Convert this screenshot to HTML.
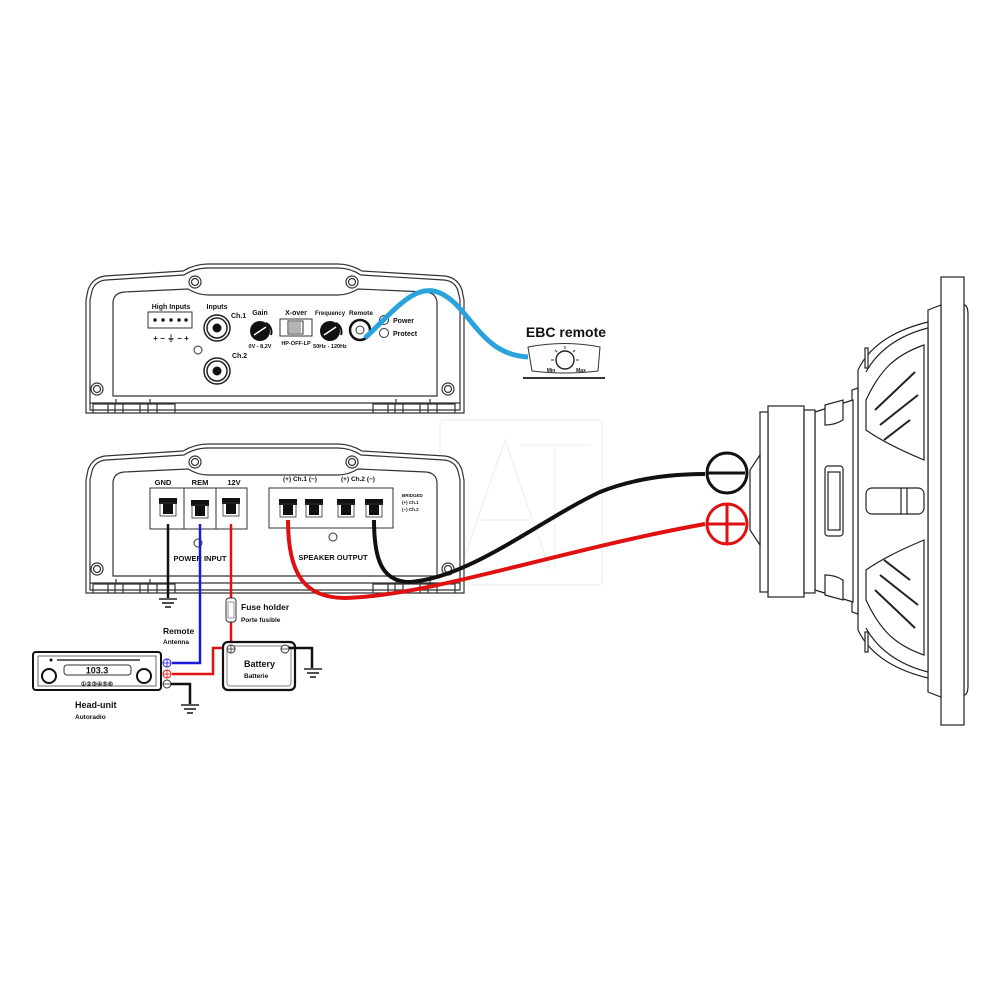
<!DOCTYPE html>
<html><head><meta charset="utf-8"><style>
html,body{margin:0;padding:0;background:#fff;}
svg{display:block;}
text{font-family:"Liberation Sans",sans-serif;font-weight:bold;fill:#111;}
</style></head><body>
<svg width="1000" height="1000" viewBox="0 0 1000 1000" xmlns="http://www.w3.org/2000/svg">
<defs>
<g id="body" fill="none" stroke="#333" stroke-width="1.2">
  <path d="M86,300 L88,290 Q92,278 105,276 L183,271 Q195,264 208,264 L338,264 Q350,264 362,271 L445,276 Q458,278 462,290 L464,300 L464,413 L86,413 Z" fill="#fff"/>
  <path d="M90,300 L92,291 Q95,281 106,280 L184,275 Q195,268 208,268 L338,268 Q350,268 361,275 L444,280 Q455,281 458,291 L460,300 L460,410 L90,410 Z"/>
  <path d="M113,396 L113,302 Q114,293 124,292 L188,289 Q198,295 208,295 L338,295 Q348,295 358,289 L426,292 Q436,293 437,302 L437,396 Z"/>
  <line x1="90" y1="403" x2="460" y2="403"/>
  <circle cx="195" cy="282" r="6"/><circle cx="195" cy="282" r="3.5"/>
  <circle cx="352" cy="282" r="6"/><circle cx="352" cy="282" r="3.5"/>
  <circle cx="97" cy="389" r="6"/><circle cx="97" cy="389" r="3.5"/>
  <circle cx="448" cy="389" r="6"/><circle cx="448" cy="389" r="3.5"/>
  <path d="M93,413 L93,404 L175,404 L175,413 M108,413 L108,404 M115,413 L115,404 M123,413 L123,404 M140,413 L140,404 M148,413 L148,404 M157,413 L157,404 M116,404 L116,399 M150,404 L150,399"/>
  <path d="M373,413 L373,404 L455,404 L455,413 M388,413 L388,404 M395,413 L395,404 M403,413 L403,404 M420,413 L420,404 M428,413 L428,404 M437,413 L437,404 M396,404 L396,399 M430,404 L430,399"/>
</g>
<g id="gnd" stroke="#222" stroke-width="1.6"><line x1="-9" y1="0" x2="9" y2="0"/><line x1="-6" y1="4" x2="6" y2="4"/><line x1="-3" y1="8" x2="3" y2="8"/></g>
<g id="term"><path d="M-9,-10 L9,-10 L9,-4 L5,-4 L5,6 L-5,6 L-5,-4 L-9,-4 Z" fill="#111"/><rect x="-8" y="-5" width="16" height="13" fill="none" stroke="#333" stroke-width="0.8"/></g>
</defs>

<g opacity="0.1" fill="none" stroke="#888" stroke-width="1.5">
<rect x="440" y="420" width="162" height="165" rx="4"/>
<path d="M460,570 L505,440 L550,570 M480,520 L530,520 M520,445 L590,445 M555,445 L555,570"/>
</g>

<use href="#body"/>
<g font-size="7">
<text x="171" y="309" text-anchor="middle">High Inputs</text>
<rect x="148" y="312" width="44" height="16" fill="#fff" stroke="#333"/>
<g fill="#111"><circle cx="155" cy="320" r="1.7"/><circle cx="163" cy="320" r="1.7"/><circle cx="171" cy="320" r="1.7"/><circle cx="179" cy="320" r="1.7"/><circle cx="186" cy="320" r="1.7"/></g>
<text x="171" y="341" text-anchor="middle" font-size="8">+ − ⏚ − +</text>
<text x="217" y="309" text-anchor="middle">Inputs</text>
<circle cx="217" cy="328" r="13" fill="none" stroke="#222" stroke-width="1.5"/><circle cx="217" cy="328" r="10" fill="none" stroke="#222" stroke-width="1.5"/><circle cx="217" cy="328" r="4.5" fill="#111"/>
<text x="231" y="318">Ch.1</text>
<circle cx="198" cy="350" r="4" fill="none" stroke="#333"/>
<circle cx="217" cy="371" r="13" fill="none" stroke="#222" stroke-width="1.5"/><circle cx="217" cy="371" r="10" fill="none" stroke="#222" stroke-width="1.5"/><circle cx="217" cy="371" r="4.5" fill="#111"/>
<text x="232" y="358">Ch.2</text>
<text x="260" y="315" text-anchor="middle">Gain</text>
<circle cx="260" cy="331" r="10" fill="#111"/><path d="M266,323 A10,10 0 0 1 271,335" stroke="#111" stroke-width="2" fill="none"/><line x1="254" y1="335" x2="266" y2="327" stroke="#fff" stroke-width="1.5"/>
<text x="260" y="348" text-anchor="middle" font-size="5.5">0V - 8,2V</text>
<text x="296" y="315" text-anchor="middle">X-over</text>
<rect x="280" y="319" width="32" height="17" fill="#fff" stroke="#333"/>
<rect x="288" y="321" width="15" height="13" fill="none" stroke="#333"/>
<path d="M290,322 V333 M292,322 V333 M294,322 V333 M296,322 V333 M298,322 V333 M300,322 V333" stroke="#444" stroke-width="0.8"/>
<text x="296" y="345" text-anchor="middle" font-size="5.5">HP-OFF-LP</text>
<text x="330" y="315" text-anchor="middle" font-size="6.5" textLength="30" lengthAdjust="spacingAndGlyphs">Frequency</text>
<circle cx="330" cy="331" r="10" fill="#111"/><path d="M336,323 A10,10 0 0 1 341,335" stroke="#111" stroke-width="2" fill="none"/><line x1="324" y1="335" x2="336" y2="327" stroke="#fff" stroke-width="1.5"/>
<text x="330" y="348" text-anchor="middle" font-size="5.5">50Hz - 120Hz</text>
<text x="361" y="315" text-anchor="middle" font-size="6.5" textLength="24" lengthAdjust="spacingAndGlyphs">Remote</text>
<circle cx="360" cy="330" r="10" fill="#fff" stroke="#111" stroke-width="2.5"/><circle cx="360" cy="330" r="4" fill="none" stroke="#333"/>
<circle cx="384" cy="320" r="4.5" fill="#fff" stroke="#333"/><text x="393" y="323">Power</text>
<circle cx="384" cy="333" r="4.5" fill="#fff" stroke="#333"/><text x="393" y="336">Protect</text>
</g>

<path d="M365,338 C395,310 415,282 440,293 C470,306 480,355 528,357" fill="none" stroke="#2aa3dc" stroke-width="5"/>
<text x="566" y="337" text-anchor="middle" font-size="14">EBC remote</text>
<path d="M528,347 Q565,340 600,347 L598,371 Q565,375 532,371 Z" fill="#fff" stroke="#333"/>
<path d="M523,378 L605,378" stroke="#333" stroke-width="2"/>
<circle cx="565" cy="360" r="9" fill="#fff" stroke="#222" stroke-width="1.4"/>
<path d="M565,349 V346 M557,352 L555,350 M573,352 L575,350 M554,360 H551 M576,360 H579" stroke="#333"/>
<text x="551" y="372" text-anchor="middle" font-size="5">Min</text>
<text x="581" y="372" text-anchor="middle" font-size="5">Max</text>

<g transform="translate(0,180)"><use href="#body"/></g>
<g font-size="7.5">
<text x="163" y="485" text-anchor="middle">GND</text>
<text x="200" y="485" text-anchor="middle">REM</text>
<text x="234" y="485" text-anchor="middle">12V</text>
<rect x="150" y="488" width="97" height="41" fill="#fff" stroke="#333"/>
<line x1="184" y1="488" x2="184" y2="529" stroke="#333"/><line x1="216" y1="488" x2="216" y2="529" stroke="#333"/>
<text x="200" y="561" text-anchor="middle">POWER INPUT</text>
<circle cx="198" cy="543" r="4" fill="none" stroke="#333"/>
<text x="300" y="481" text-anchor="middle" font-size="6.5">(+)  Ch.1 (−)</text>
<text x="358" y="481" text-anchor="middle" font-size="6.5">(+)  Ch.2 (−)</text>
<rect x="269" y="488" width="124" height="40" fill="#fff" stroke="#333"/>
<text x="333" y="560" text-anchor="middle">SPEAKER OUTPUT</text>
<circle cx="333" cy="537" r="4" fill="none" stroke="#333"/>
<text x="402" y="497" font-size="4.5">BRIDGED</text>
<text x="402" y="504" font-size="4.5">(+) Ch.1</text>
<text x="402" y="511" font-size="4.5">(−) Ch.2</text>
</g>
<g transform="translate(168,508)"><use href="#term"/></g>
<g transform="translate(200,510)"><use href="#term"/></g>
<g transform="translate(231,508)"><use href="#term"/></g>
<g transform="translate(288,509)"><use href="#term"/></g>
<g transform="translate(314,509)"><use href="#term"/></g>
<g transform="translate(346,509)"><use href="#term"/></g>
<g transform="translate(374,509)"><use href="#term"/></g>

<path d="M168,524 V598" stroke="#111" stroke-width="2.5" fill="none"/>
<g transform="translate(168,599)"><use href="#gnd"/></g>
<path d="M200,524 V663 H172" stroke="#1a1adc" stroke-width="2.5" fill="none"/>
<path d="M231,524 V600 M231,620 V648 M231,648 H213 V674 H172" stroke="#e01010" stroke-width="2.5" fill="none"/>
<rect x="226" y="598" width="10" height="24" rx="3" fill="#fff" stroke="#333"/>
<rect x="228" y="602" width="6" height="16" fill="none" stroke="#555" stroke-width="0.6"/>
<text x="241" y="610" font-size="8.5">Fuse holder</text>
<text x="241" y="622" font-size="6.5">Porte fusible</text>
<text x="163" y="634" font-size="8.5">Remote</text>
<text x="163" y="644" font-size="6.5">Antenna</text>

<rect x="33" y="652" width="128" height="38" rx="3" fill="#fff" stroke="#111" stroke-width="2"/>
<rect x="38" y="656" width="118" height="30" fill="none" stroke="#444" stroke-width="0.8"/>
<circle cx="51" cy="660" r="1.5" fill="#111"/>
<line x1="57" y1="660" x2="140" y2="660" stroke="#333" stroke-width="1.5"/>
<circle cx="49" cy="676" r="7" fill="#fff" stroke="#111" stroke-width="2"/>
<circle cx="144" cy="676" r="7" fill="#fff" stroke="#111" stroke-width="2"/>
<rect x="64" y="665" width="67" height="10" rx="3" fill="#fff" stroke="#333"/>
<text x="97" y="673.5" text-anchor="middle" font-size="9" font-weight="normal" font-family="Liberation Serif">103.3</text>
<text x="97" y="686" text-anchor="middle" font-size="6" font-weight="normal">①②③④⑤⑥</text>
<circle cx="167" cy="663" r="4" fill="#fff" stroke="#1a1adc"/><path d="M163,663 H171 M167,659 V667" stroke="#1a1adc" stroke-width="0.8"/>
<circle cx="167" cy="674" r="4" fill="#fff" stroke="#e01010"/><path d="M163,674 H171 M167,670 V678" stroke="#e01010" stroke-width="0.8"/>
<circle cx="167" cy="684" r="4" fill="#fff" stroke="#333"/><path d="M163,684 H171" stroke="#333" stroke-width="0.8"/>
<path d="M171,684 H190 V704" stroke="#111" stroke-width="2.5" fill="none"/>
<g transform="translate(190,705)"><use href="#gnd"/></g>
<text x="75" y="708" font-size="9">Head-unit</text>
<text x="75" y="719" font-size="6.5">Autoradio</text>

<rect x="223" y="642" width="72" height="48" rx="5" fill="#fff" stroke="#111" stroke-width="2.2"/>
<rect x="227" y="646" width="64" height="40" rx="3" fill="none" stroke="#555" stroke-width="0.7"/>
<circle cx="231" cy="649" r="4" fill="#fff" stroke="#333"/><path d="M227,649 H235 M231,645 V653" stroke="#333" stroke-width="0.8"/>
<circle cx="285" cy="649" r="4" fill="#fff" stroke="#333"/><path d="M281,649 H289" stroke="#333" stroke-width="0.8"/>
<path d="M289,648 H312 V668" stroke="#111" stroke-width="2.5" fill="none"/>
<g transform="translate(313,669)"><use href="#gnd"/></g>
<text x="244" y="667" font-size="9">Battery</text>
<text x="244" y="678" font-size="6.5">Batterie</text>

<path d="M288,520 C288,575 305,598 345,598 C430,596 560,550 705,524" stroke="#e01010" stroke-width="4" fill="none"/>
<path d="M374,520 C374,560 382,582 410,582 C470,578 540,520 600,492 C640,476 680,474 705,474" stroke="#111" stroke-width="4" fill="none"/>

<g fill="#fff" stroke="#222" stroke-width="1.2">
<path d="M964,305 Q968,305 968,315 L968,685 Q968,695 964,695 Z"/>
<rect x="941" y="277" width="23" height="448"/>
<path d="M928,310 L941,305 L941,697 L928,692 Z"/>
<path d="M928,322 C895,330 870,345 858,370 L858,630 C870,655 895,670 928,678 Z"/>
<path d="M928,328 C900,335 878,350 866,372 M928,672 C900,665 878,650 866,628"/>
<path d="M924,345 C895,355 880,370 866,400 L866,430 C880,440 900,450 924,460 Z"/>
<path d="M924,540 C900,550 880,560 866,570 L866,600 C880,630 895,645 924,655 Z"/>
<path d="M875,410 L915,372 M880,425 L918,395 M884,440 L910,420 M875,590 L915,628 M880,575 L918,605 M884,560 L910,580" stroke-width="2"/>
<rect x="866" y="488" width="58" height="26" rx="6"/>
<line x1="901" y1="488" x2="901" y2="514"/><line x1="907" y1="488" x2="907" y2="514"/>
<path d="M858,388 L852,390 L852,612 L858,614 Z"/>
<path d="M853,400 L815,412 L815,590 L853,602 Z"/>
<path d="M825,405 L843,400 L843,420 Q835,425 825,425 Z M825,575 Q835,575 843,580 L843,600 L825,595 Z"/>
<rect x="825" y="466" width="18" height="70" rx="3"/>
<rect x="828" y="472" width="12" height="58"/>
<rect x="768" y="406" width="36" height="191"/>
<rect x="804" y="410" width="11" height="183"/>
<rect x="760" y="412" width="8" height="180"/>
<path d="M760,455 L750,470 L750,530 L760,545 Z"/>
<rect x="865" y="348" width="3" height="20"/>
<rect x="865" y="632" width="3" height="20"/>
</g>
<circle cx="727" cy="473" r="20" fill="#fff" stroke="#111" stroke-width="3"/>
<line x1="707" y1="473" x2="745" y2="473" stroke="#111" stroke-width="3"/>
<circle cx="727" cy="524" r="20" fill="#fff" stroke="#e01010" stroke-width="3"/>
<path d="M707,524 H745 M727,505 V543" stroke="#e01010" stroke-width="3"/>
</svg>
</body></html>
